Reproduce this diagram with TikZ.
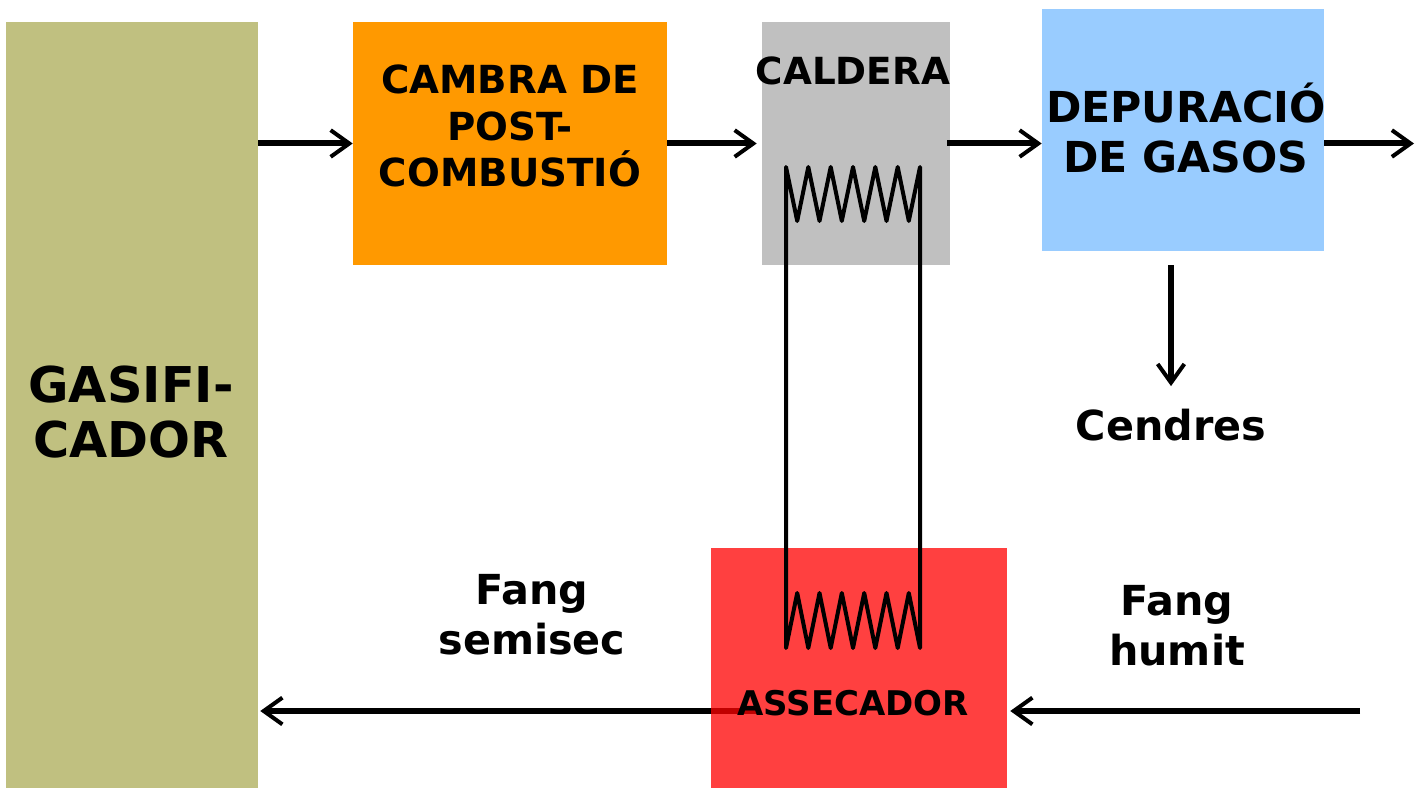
\documentclass[tikz,border=0pt]{standalone}
\usepackage{fontspec}
\setmainfont{DejaVu Sans}
\usetikzlibrary{arrows.meta}
\definecolor{gasc}{HTML}{C0C080}
\definecolor{camc}{HTML}{FF9900}
\definecolor{calc}{HTML}{C0C0C0}
\definecolor{depc}{HTML}{99CCFF}
\definecolor{assc}{HTML}{FF4040}
\definecolor{linered}{HTML}{C00000}
\begin{document}
\begin{tikzpicture}[x=0.75pt,y=-0.75pt,
  box/.style={draw=none,inner sep=0pt,rectangle},
  txt/.style={align=center,inner sep=0pt},
  arr/.style={line width=4.5pt,-{Straight Barb[length=14pt,width=20pt,line width=3pt]}},
  coil/.style={line width=3pt,line join=round,line cap=round}]
\useasboundingbox (0,0) rectangle (1416,788);
% boxes
\node[box,fill=gasc,minimum width=189pt,minimum height=574.5pt] (gasif) at (132,405) {};
\node[box,fill=camc,minimum width=235.5pt,minimum height=182.25pt] (cambra) at (510,143.5) {};
\node[box,fill=calc,minimum width=141pt,minimum height=182.25pt] (caldera) at (856,143.5) {};
\node[box,fill=depc,minimum width=211.5pt,minimum height=181.5pt] (depur) at (1183,130) {};
\node[box,fill=assc,minimum width=222pt,minimum height=180pt] (assec) at (859,668) {};
% texts
\node[txt,font=\bfseries\fontsize{37}{41}\selectfont] (gasift) at (131,412) {GASIFI-\\CADOR};
\node[txt,font=\bfseries\fontsize{29}{35}\selectfont] (cambrat) at (510,126) {CAMBRA DE\\POST-\\COMBUSTIÓ};
\node[txt,font=\bfseries\fontsize{28}{34}\selectfont] (calderat) at (853,71) {CALDERA};
\node[txt,font=\bfseries\fontsize{32}{37.5}\selectfont] (depurt) at (1186,128) {DEPURACIÓ\\DE GASOS};
\node[txt,font=\bfseries\fontsize{31}{37}\selectfont] (cendres) at (1171,425) {Cendres};
\node[txt,font=\bfseries\fontsize{31}{37.5}\selectfont] (semisec) at (532,615) {Fang\\semisec};
\node[txt,font=\bfseries\fontsize{31}{37.5}\selectfont] (humit) at (1177,626) {Fang\\humit};
% coil
\draw[coil] (786,167) -- (786,648)
  -- (797.2,593) -- (808.3,648) -- (819.5,593) -- (830.7,648) -- (841.8,593) -- (853,648)
  -- (864.2,593) -- (875.3,648) -- (886.5,593) -- (897.7,648) -- (908.8,593) -- (920,648)
  -- (920,167)
  -- (908.8,221) -- (897.7,167) -- (886.5,221) -- (875.3,167) -- (864.2,221) -- (853,167)
  -- (841.8,221) -- (830.7,167) -- (819.5,221) -- (808.3,167) -- (797.2,221) -- cycle;
% arrows top row
\draw[arr] (gasif.east |- cambra.west) -- (cambra.west);
\draw[arr,shorten >=3.75pt] (cambra.east) -- (caldera.west);
\draw[arr] ([xshift=-2.25pt]caldera.east) -- (depur.west |- caldera.east);
\coordinate (gasout) at (1414,143.5);
\draw[arr] (depur.east |- caldera.east) -- (gasout);
% ash
\draw[arr] ([yshift=-10.5pt]depur.south -| cendres.north) -- ([yshift=17pt]cendres.north);
% bottom row
\coordinate (humitin) at (1360,711);
\draw[arr] (humitin) -- ([xshift=2.25pt]assec.east |- humitin);
\coordinate (semisecstart) at (757,711);
\draw[line width=4.5pt,linered] (semisecstart) -- (assec.west |- semisecstart);
\draw[arr] (assec.west |- semisecstart) -- ([xshift=1.5pt]gasif.east |- semisecstart);
\node[txt,font=\bfseries\fontsize{25.5}{30}\selectfont] (assect) at (853,703) {ASSECADOR};
\end{tikzpicture}
\end{document}
